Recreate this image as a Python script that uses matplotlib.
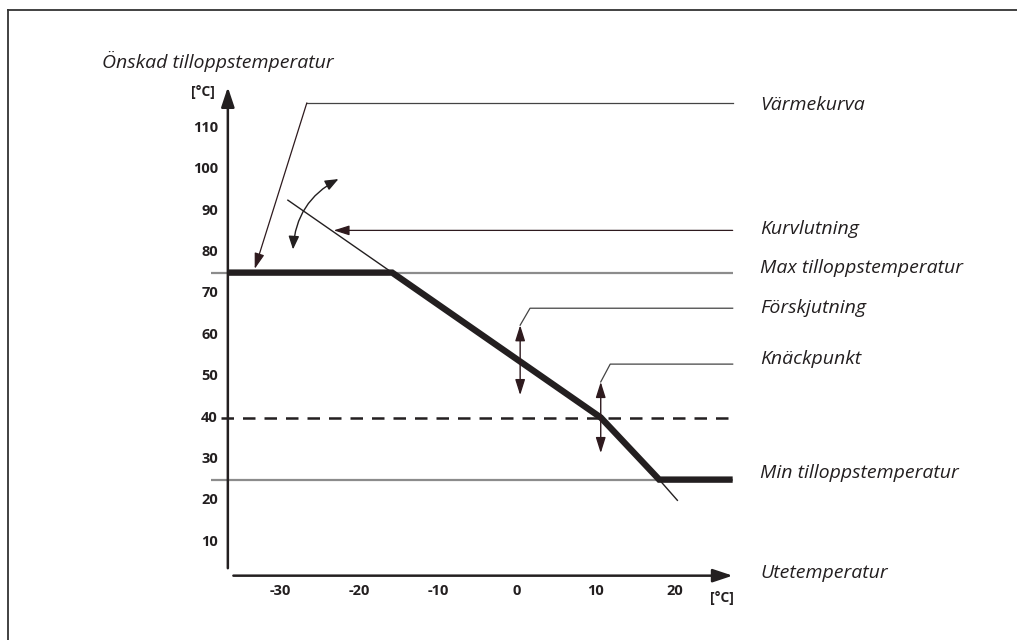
"""
Heating curve schematic (Swedish labels): supply temperature vs outdoor temperature.
"""
import matplotlib

matplotlib.use("Agg")
import matplotlib.pyplot as plt
from matplotlib.patches import FancyArrowPatch

plt.rcParams["font.family"] = ["Open Sans", "DejaVu Sans"]

# values
y_ticks = [10, 20, 30, 40, 50, 60, 70, 80, 90, 100, 110]
x_ticks = [-30, -20, -10, 0, 10, 20]
max_temp = 75
min_temp = 25
knee_temp = 40
curve_x = [-36.6, -15.8, 10.6, 18.0, 27.3]
curve_y = [75, 75, 40, 25, 25]
slope_upper_x = [-29.0, -15.8]
slope_upper_y = [92.5, 75]
slope_lower_x = [18.0, 20.3]
slope_lower_y = [25, 20]
shift_x = 0.4
shift_y = [45.4, 62.3]
knee_x = 10.6
knee_y = [31.4, 48.6]

callouts = ["Värmekurva", "Kurvlutning", "Max tilloppstemperatur",
            "Förskjutning", "Knäckpunkt", "Min tilloppstemperatur",
            "Utetemperatur"]
callout_y = [115.5, 85.5, 76.1, 66.45, 54.1, 26.6, 2.44]

INK = "#231f20"
ARROW = "#2e1a1e"
GREY = "#8c8c8c"

fig = plt.figure(figsize=(10.17, 6.4), dpi=100)
ax = fig.add_axes([0, 0, 1, 1])
ax.set_xlim(-65.44, 63.29)
ax.set_ylim(-13.74, 140.85)
ax.axis("off")

# outer frame (left and top edges only are visible)
fig.add_artist(plt.Line2D([8 / 1017, 8 / 1017], [0, 1 - 9.5 / 640],
                          color="#333333", lw=1.3))
fig.add_artist(plt.Line2D([8 / 1017, 1], [1 - 9.5 / 640, 1 - 9.5 / 640],
                          color="#333333", lw=1.3))

x_left, x_right = -36.6, 27.3

# axes arrows
ax.annotate("", xy=(x_left, 119.8), xytext=(x_left, 3.6),
            arrowprops=dict(arrowstyle="-|>,head_length=1.2,head_width=0.4",
                            color=INK, lw=1.8, shrinkA=0, shrinkB=0))
ax.annotate("", xy=(x_right, 1.8), xytext=(-35.9, 1.8),
            arrowprops=dict(arrowstyle="-|>,head_length=1.2,head_width=0.4",
                            color=INK, lw=1.8, shrinkA=0, shrinkB=0))

# limit lines
ax.plot([-38.7, x_right], [max_temp, max_temp], color=GREY, lw=1.6,
        solid_capstyle="butt")
ax.plot([-38.7, x_right], [min_temp, min_temp], color=GREY, lw=1.6,
        solid_capstyle="butt")
ax.plot([-37.5, x_right], [knee_temp, knee_temp], color=INK, lw=1.8,
        dashes=(5, 3.6))

# heating curve and slope line extensions
ax.plot(slope_upper_x, slope_upper_y, color=INK, lw=1.0)
ax.plot(slope_lower_x, slope_lower_y, color=INK, lw=1.0)
ax.plot(curve_x, curve_y, color=INK, lw=4.6, solid_joinstyle="miter",
        solid_capstyle="butt")

# tick labels
for v in y_ticks:
    ax.text(-37.85, v, str(v), ha="right", va="center", fontsize=10.5,
            fontweight="bold", color=INK)
for v in x_ticks:
    ax.text(v, -1.9, str(v), ha="center", va="center", fontsize=10.5,
            fontweight="bold", color=INK)
ax.text(-38.2, 118.6, "[°C]", ha="right", va="center", fontsize=10,
        fontweight="bold", color=INK)
ax.text(25.9, -3.6, "[°C]", ha="center", va="center", fontsize=10,
        fontweight="bold", color=INK)

ax.text(-52.5, 125.9, "Önskad tilloppstemperatur", ha="left", va="center",
        fontsize=14, style="italic", color=INK)

for label, y in zip(callouts, callout_y):
    ax.text(30.76, y, label, ha="left", va="center", fontsize=14,
            style="italic", color=INK)

# leader lines
head = "-|>,head_length=0.95,head_width=0.3"
lead = dict(color="#444444", lw=0.9)
ax.plot([-26.6, x_right], [116.0, 116.0], **lead)
ax.annotate("", xy=(-33.2, 75.9), xytext=(-26.6, 116.0),
            arrowprops=dict(arrowstyle=head, color=ARROW, lw=0.9,
                            shrinkA=0, shrinkB=0))
ax.annotate("", xy=(-23.2, 85.2), xytext=(x_right, 85.2),
            arrowprops=dict(arrowstyle=head, color=ARROW, lw=0.9,
                            shrinkA=0, shrinkB=0))
ax.plot([shift_x, 1.65, x_right], [shift_y[1], 66.4, 66.4], **lead)
ax.plot([knee_x, 11.8, x_right], [knee_y[1], 52.9, 52.9], **lead)

# double arrows for offset and knee point
for xx, (y0, y1) in [(shift_x, shift_y), (knee_x, knee_y)]:
    ax.annotate("", xy=(xx, y1), xytext=(xx, y0),
                arrowprops=dict(arrowstyle="<|-|>,head_length=0.95,head_width=0.3",
                                color=ARROW, lw=1.0, shrinkA=0, shrinkB=0))

# curved double arrow for slope
ax.add_patch(FancyArrowPatch((-28.35, 80.6), (-22.6, 97.6),
                             connectionstyle="arc3,rad=-0.28",
                             arrowstyle="<|-|>,head_length=8,head_width=3.2",
                             color=INK, lw=1.0, shrinkA=0, shrinkB=0))

fig.savefig("out.png", dpi=100)
